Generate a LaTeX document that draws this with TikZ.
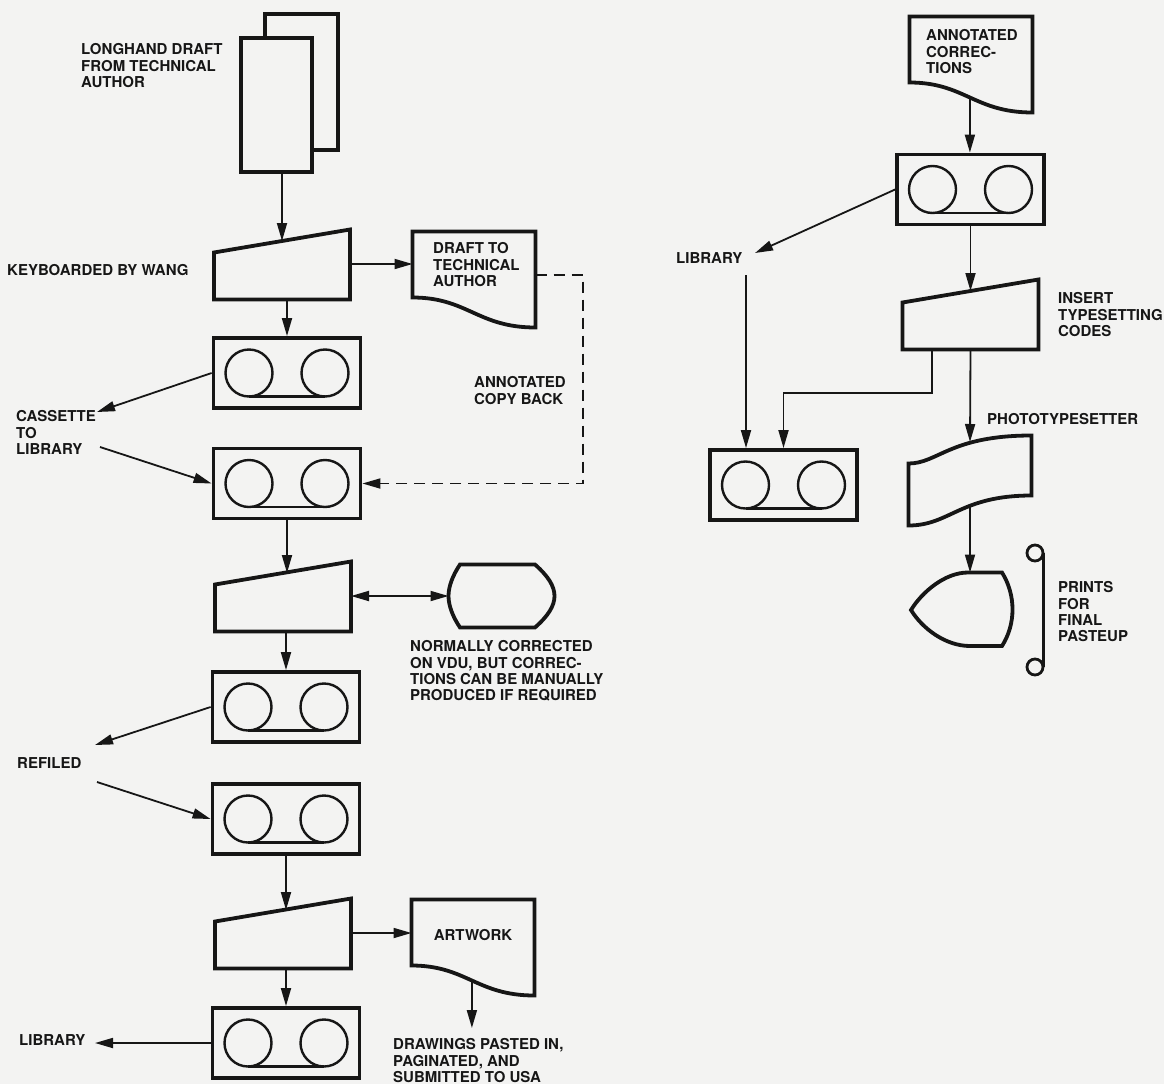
\documentclass[tikz,border=0pt]{standalone}
\usepackage{fontspec}
\setmainfont{TeX Gyre Heros}
\usetikzlibrary{arrows.meta}
\definecolor{bg}{RGB}{243,243,242}
\definecolor{ink}{RGB}{22,22,22}
\tikzset{
  tip/.tip={Triangle[length=18pt,width=10pt]},
  shp/.style={line width=3.8pt, draw=ink, fill=bg, line join=miter},
  conn/.style={line width=1.8pt, draw=ink, -tip},
  dconn/.style={conn, dash pattern=on 11pt off 7pt},
  reel/.style={line width=2.4pt, draw=ink},
  lbl/.style={font=\fontsize{15pt}{16.3pt}\selectfont\bfseries, inner sep=0pt, align=left, text=ink},
  cassbox/.style={shp, rectangle, minimum width=147pt, minimum height=70pt, inner sep=0pt},
  cassette/.pic={
    \node[cassbox] (-box) at (0,0) {};
    \draw[reel] (-38,0) circle[radius=23.5pt] (38,0) circle[radius=23.5pt];
    \draw[reel] (-38,23.5) -- (38,23.5);
  },
  manual/.pic={
    \draw[shp] (-68,0) -- (68,0) -- (68,-70) -- (-68,-47) -- cycle;
    \coordinate (-b) at (0,0);
    \coordinate (-t) at (0,-58.5);
    \coordinate (-r) at (68,-35.5);
    \coordinate (-bl) at (-38.5,0);
  },
  docu/.pic={
    \draw[shp] (0,0) -- (123,0) -- (123,96) .. controls (65,96) and (55,66) .. (0,66) -- cycle;
    \coordinate (-nw) at (0,0);
    \coordinate (-e) at (123,43.5);
    \coordinate (-w) at (60.4,81);
  }
}
\begin{document}
\begin{tikzpicture}[x=1pt,y=-1pt]
\fill[bg] (0,0) rectangle (1164,1084);
\useasboundingbox (0,0) rectangle (1164,1084);

% ---------- left column ----------
\draw[shp] (265,14) rectangle (338,150);
\node[shp, rectangle, minimum width=71pt, minimum height=134pt, inner sep=0pt] (ldraft) at (276.5,105) {};
\node[lbl, anchor=north west] (tldraft) at (81,43.6) {LONGHAND DRAFT\\FROM TECHNICAL\\AUTHOR};

\pic (m1) at (282,299.5) {manual};
\node[lbl, anchor=west] (tkey) at (7,270) {KEYBOARDED BY WANG};

\pic (d1) at (412.5,231.5) {docu};
\node[lbl, anchor=north west] (td1) at (433,242.6) {DRAFT TO\\TECHNICAL\\AUTHOR};
\node[lbl, anchor=north west] (tcopy) at (474,376.6) {ANNOTATED\\COPY BACK};

\pic (c1) at (287,373) {cassette};
\pic (c2) at (287,483.5) {cassette};
\node[lbl, anchor=north west] (tcas) at (16,410.6) {CASSETTE\\TO\\LIBRARY};
\coordinate (casin) at (97,412);
\coordinate (casout) at (100,447);
\coordinate (dc) at (583,0);

\pic (m2) at (283,631.5) {manual};
\draw[shp] (460,564.5) -- (535,564.5) .. controls (548,576) and (554.5,586) .. (554.5,596)
  .. controls (554.5,606) and (548,616) .. (535,627.5) -- (460,627.5)
  .. controls (453,617) and (448.5,606) .. (448.5,596)
  .. controls (448.5,586) and (453,575) .. (460,564.5) -- cycle;
\coordinate (vduw) at (448.5,596);
\node[lbl, anchor=north west] (tvdu) at (410,640.6) {NORMALLY CORRECTED\\ON VDU, BUT CORREC-\\TIONS CAN BE MANUALLY\\PRODUCED IF REQUIRED};

\pic (c3) at (286,707) {cassette};
\pic (c4) at (286,819) {cassette};
\node[lbl, anchor=west] (tref) at (17,763) {REFILED};
\coordinate (refin) at (95,745);
\coordinate (refout) at (97,782);

\pic (m3) at (283,968.5) {manual};
\pic (d2) at (411.5,899.5) {docu};
\node[lbl] (tart) at (473,935) {ARTWORK};
\coordinate (drawtip) at (0,1028);
\node[lbl, anchor=north west] (tdraw) at (393,1038.6) {DRAWINGS PASTED IN,\\PAGINATED, AND\\SUBMITTED TO USA};

\pic (c5) at (286,1043) {cassette};
\node[lbl, anchor=west] (tlib1) at (19,1040) {LIBRARY};
\coordinate (lib1tip) at (95,0);

% ---------- right column ----------
\pic (d3) at (909.5,16.5) {docu};
\node[lbl, anchor=north west] (tac) at (926,29.6) {ANNOTATED\\CORREC-\\TIONS};
\pic (r1) at (970.5,189.5) {cassette};
\node[lbl, anchor=west] (tlib2) at (676,258) {LIBRARY};
\coordinate (lib2in) at (755,253);
\coordinate (lib2out) at (746,275);

\pic (mr) at (970.5,349.5) {manual};
\node[lbl, anchor=north west] (tins) at (1058,292.6) {INSERT\\TYPESETTING\\CODES};
\coordinate (kink) at (0,393);

\pic (r2) at (783.5,485) {cassette};

\draw[shp] (908.5,463.5) .. controls (938,463.5) and (950,435.5) .. (1031.5,435.5)
  -- (1031.5,495.5) .. controls (960,495.5) and (950,525.5) .. (908.5,525.5) -- cycle;
\coordinate (ptt) at (970,442);
\coordinate (ptb) at (970,506);
\node[lbl, anchor=west] (tpt) at (987,419) {PHOTOTYPESETTER};

\draw[shp] (968,572.5) -- (1002,572.5) .. controls (1016,595) and (1016,624) .. (1002,646)
  -- (970,646) .. controls (945,646) and (922,628) .. (911,610)
  .. controls (922,592) and (945,572.5) .. (968,572.5) -- cycle;
\coordinate (dispt) at (970,572.5);

\draw[reel, line width=2.8pt] (1035,553) circle[radius=8pt] (1035,667) circle[radius=8pt];
\draw[reel, line width=3pt] (1043,553) -- (1043,667);
\node[lbl, anchor=north west] (tprints) at (1058,581.6) {PRINTS\\FOR\\FINAL\\PASTEUP};

% ---------- connectors ----------
\draw[conn] (ldraft.south -| m1-t) -- (m1-t);
\draw[conn] (m1-r) -- (m1-r -| d1-nw);
\draw[conn] (m1-b -| c1-box.north) -- (c1-box.north);
\draw[conn] (c1-box.west) -- (casin);
\draw[conn] (casout) -- (c2-box.west);
\draw[dconn] (d1-e) -| (dc |- c2-box.east) -- (c2-box.east);
\draw[conn] (c2-box.south) -- (c2-box.south |- m2-t);
\draw[conn, tip-tip] (m2-r) -- (m2-r -| vduw);
\draw[conn] (m2-b -| c3-box.north) -- (c3-box.north);
\draw[conn] (c3-box.west) -- (refin);
\draw[conn] (refout) -- (c4-box.west);
\draw[conn] (c4-box.south) -- (c4-box.south |- m3-t);
\draw[conn] (m3-r) -- (m3-r -| d2-nw);
\draw[conn] (d2-w) -- (d2-w |- drawtip);
\draw[conn] (m3-b -| c5-box.north) -- (c5-box.north);
\draw[conn] (c5-box.west) -- (c5-box.west -| lib1tip);

\draw[conn] (d3-w) -- (d3-w |- r1-box.north);
\draw[conn] (r1-box.west) -- (lib2in);
\draw[conn] (lib2out) -- (lib2out |- r2-box.north);
\draw[conn] (r1-box.south) -- (mr-t);
\draw[conn] (mr-bl) |- (r2-box.north |- kink) -- (r2-box.north);
\draw[conn] (mr-b) -- (ptt);
\draw[conn] (ptb) -- (dispt);
\end{tikzpicture}
\end{document}
